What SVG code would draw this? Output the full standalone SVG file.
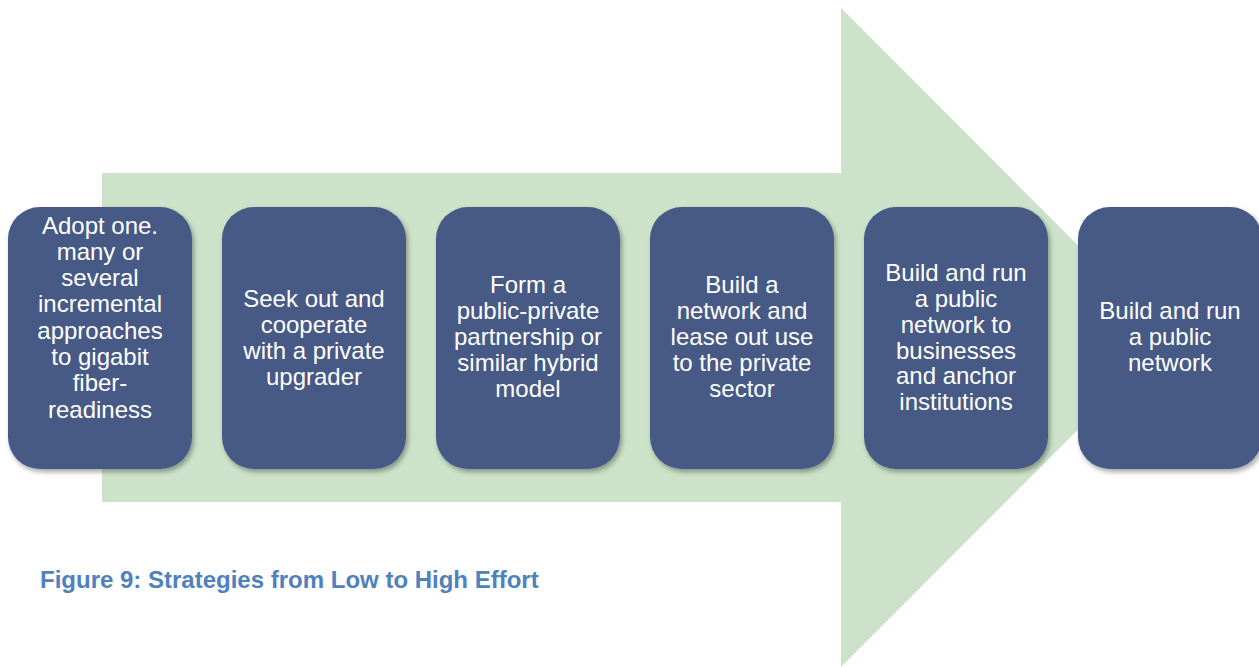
<svg xmlns="http://www.w3.org/2000/svg" width="1259" height="667" viewBox="0 0 1259 667">
<defs>
<filter id="sh" x="-10%" y="-10%" width="125%" height="125%">
<feDropShadow dx="2" dy="3" stdDeviation="2.5" flood-color="#000" flood-opacity="0.35"/>
</filter>
<style>
.box{fill:#465a86;filter:url(#sh);}
.t{font-family:"Liberation Sans",Arial,sans-serif;font-size:24px;fill:#ffffff;text-anchor:middle;}
.cap{font-family:"Liberation Sans",Arial,sans-serif;font-size:24px;font-weight:bold;fill:#4f81bd;}
</style>
</defs>
<rect width="1259" height="667" fill="#ffffff"/>
<g id="arrow">
<polygon points="102,173 841,173 841,8 1170,337.5 841,667 841,502 102,502" fill="#cce3c9"/>
</g>
<g id="connectors"></g>
<g id="node1">
<rect class="box" x="8" y="207" width="184" height="262" rx="32"/>
<text class="t" x="100" y="234">Adopt one.</text>
<text class="t" x="100" y="260">many or</text>
<text class="t" x="100" y="286">several</text>
<text class="t" x="100" y="312">incremental</text>
<text class="t" x="100" y="339">approaches</text>
<text class="t" x="100" y="365">to gigabit</text>
<text class="t" x="100" y="391">fiber-</text>
<text class="t" x="100" y="418">readiness</text>
</g>
<g id="node2">
<rect class="box" x="222" y="207" width="184" height="262" rx="32"/>
<text class="t" x="314" y="307">Seek out and</text>
<text class="t" x="314" y="333">cooperate</text>
<text class="t" x="314" y="359">with a private</text>
<text class="t" x="314" y="385">upgrader</text>
</g>
<g id="node3">
<rect class="box" x="436" y="207" width="184" height="262" rx="32"/>
<text class="t" x="528" y="293">Form a</text>
<text class="t" x="528" y="319">public-private</text>
<text class="t" x="528" y="345">partnership or</text>
<text class="t" x="528" y="371">similar hybrid</text>
<text class="t" x="528" y="397">model</text>
</g>
<g id="node4">
<rect class="box" x="650" y="207" width="184" height="262" rx="32"/>
<text class="t" x="742" y="293">Build a</text>
<text class="t" x="742" y="319">network and</text>
<text class="t" x="742" y="345">lease out use</text>
<text class="t" x="742" y="371">to the private</text>
<text class="t" x="742" y="397">sector</text>
</g>
<g id="node5">
<rect class="box" x="864" y="207" width="184" height="262" rx="32"/>
<text class="t" x="956" y="281">Build and run</text>
<text class="t" x="956" y="307">a public</text>
<text class="t" x="956" y="333">network to</text>
<text class="t" x="956" y="359">businesses</text>
<text class="t" x="956" y="384">and anchor</text>
<text class="t" x="956" y="410">institutions</text>
</g>
<g id="node6">
<rect class="box" x="1078" y="207" width="184" height="262" rx="32"/>
<text class="t" x="1170" y="319">Build and run</text>
<text class="t" x="1170" y="345">a public</text>
<text class="t" x="1170" y="371">network</text>
</g>
<text class="cap" x="40" y="588">Figure 9: Strategies from Low to High Effort</text>
</svg>
